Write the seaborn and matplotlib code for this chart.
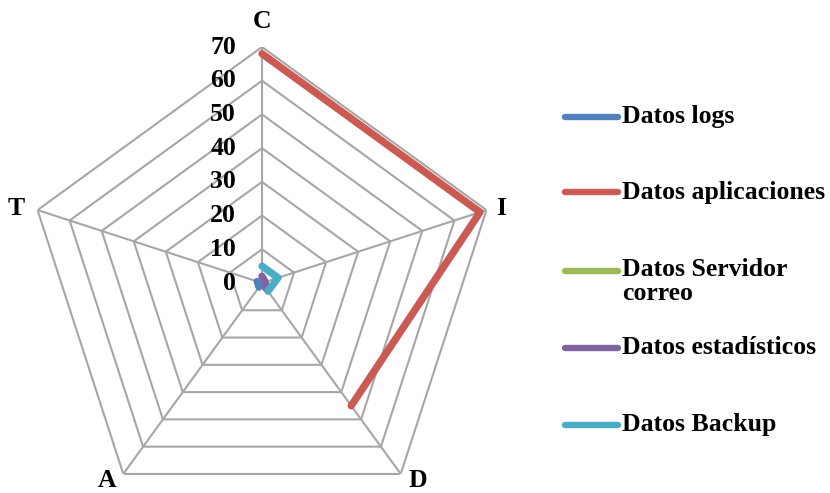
import numpy as np
import matplotlib
matplotlib.use("Agg")
import matplotlib.pyplot as plt
import seaborn as sns
import pandas as pd
from matplotlib.lines import Line2D
from matplotlib.transforms import offset_copy

# ---- data ----
axis_labels = ["C", "I", "D", "A", "T"]
series_names = ["Datos logs", "Datos aplicaciones", "Datos Servidor\ncorreo",
                "Datos estadísticos", "Datos Backup"]
datos_logs = [0, 0, 0, 1.5, 1.5]
datos_aplicaciones = [68, 68, 45, np.nan, np.nan]
datos_servidor = [0, 0, 0, np.nan, np.nan]
datos_estadisticos = [2, 1, 2, np.nan, np.nan]
datos_backup = [5, 5, 3, np.nan, np.nan]
ring_ticks = [0, 10, 20, 30, 40, 50, 60, 70]
colors = ["#4F81BD", "#CB5A52", "#9BBB59", "#8064A2", "#4BACC6"]

sns.set_theme(style="white")
plt.rcParams["font.family"] = ["Liberation Serif", "DejaVu Serif"]
plt.rcParams["font.weight"] = "bold"

all_series = [datos_logs, datos_aplicaciones, datos_servidor,
              datos_estadisticos, datos_backup]
n = len(axis_labels)
thetas = np.arange(n) * 2 * np.pi / n

rows = []
for name, vals in zip(series_names, all_series):
    for k, v in enumerate(vals):
        rows.append({"series": name, "theta": thetas[k], "value": v, "k": k})
df = pd.DataFrame(rows).dropna()

W, H = 830, 493
FS = 18.5
fig = plt.figure(figsize=(W / 100, H / 100), dpi=100)
cx, cy, R = 262, 283, 236
ax = fig.add_axes([(cx - R) / W, (H - cy - R) / H, 2 * R / W, 2 * R / H],
                  projection="polar")
ax.set_theta_offset(np.pi / 2)
ax.set_theta_direction(-1)
ax.set_ylim(0, 70)
ax.axis("off")

grid_col = "#A6A6A6"
closed = np.append(thetas, thetas[0])
for r in ring_ticks[1:]:
    ax.plot(closed, [r] * (n + 1), color=grid_col, lw=1.5, zorder=1)
for t in thetas:
    ax.plot([t, t], [0, 70], color=grid_col, lw=1.5, zorder=1)

sns.lineplot(data=df, x="theta", y="value", hue="series", units="series",
             palette=dict(zip(series_names, colors)), hue_order=series_names,
             sort=False, estimator=None, linewidth=5.3, legend=False, ax=ax,
             zorder=3)
for line in ax.lines[-len(series_names):]:
    line.set_solid_capstyle("round")
    line.set_solid_joinstyle("round")

# ring labels along C axis
lab_tr = offset_copy(ax.transData, fig=fig, x=-26, y=0, units="dots")
for r in ring_ticks:
    ax.text(0, r, str(r), transform=lab_tr, ha="right", va="center",
            fontsize=FS, fontweight="bold", color="black")

# axis category labels (pixel offsets from the outer vertex)
label_off = [(0, 25), (15, 2), (17, -7), (-16, -7), (-21, 2)]
for t, lab, (ox, oy) in zip(thetas, axis_labels, label_off):
    tr = offset_copy(ax.transData, fig=fig, x=ox, y=oy, units="dots")
    ax.text(t, 70, lab, transform=tr, ha="center", va="center", fontsize=FS,
            fontweight="bold", color="black")

# legend
leg_y = [117, 192, 271, 348, 425]
for name, col, y in zip(series_names, colors, leg_y):
    fy = 1 - y / H
    fig.add_artist(Line2D([565 / W, 618 / W], [fy, fy], color=col, lw=4.6,
                          solid_capstyle="round"))
    if "\n" in name:
        fig.text(622 / W, 1 - (y - 13) / H, name, ha="left", va="top",
                 fontsize=FS, fontweight="bold", linespacing=1.05,
                 color="black")
    else:
        fig.text(622 / W, fy, name, ha="left", va="center", fontsize=FS,
                 fontweight="bold", color="black")

fig.savefig("out.png", dpi=100)
